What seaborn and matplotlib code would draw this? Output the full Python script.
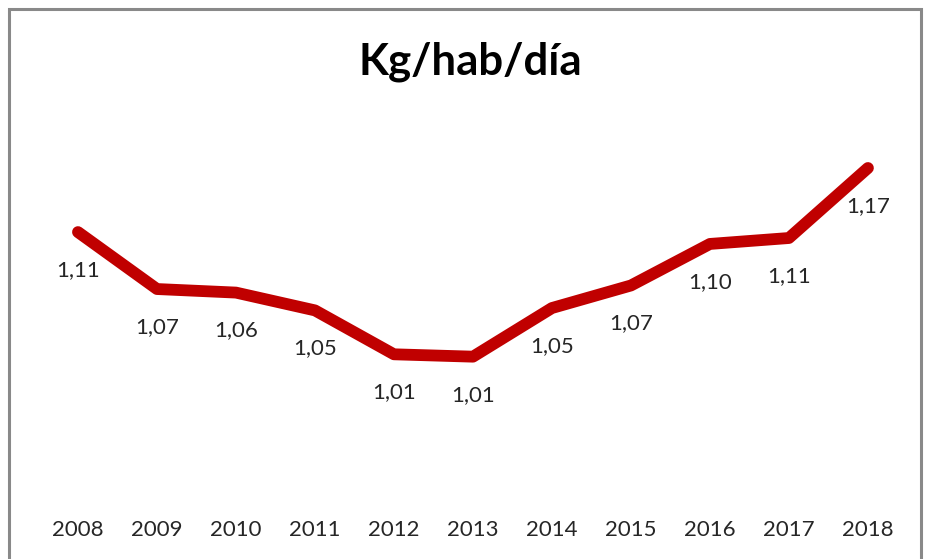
import pandas as pd
import matplotlib
matplotlib.use('Agg')
import matplotlib.pyplot as plt
from matplotlib.patches import Rectangle
import seaborn as sns

# Data (labels shown rounded to 2 decimals)
years = ['2008', '2009', '2010', '2011', '2012', '2013',
         '2014', '2015', '2016', '2017', '2018']
kg_hab_dia = [1.114, 1.066, 1.063, 1.048, 1.011, 1.009,
              1.050, 1.069, 1.104, 1.109, 1.168]

df = pd.DataFrame({'pos': range(len(years)), 'year': years, 'value': kg_hab_dia})

sns.set_style('white')
plt.rcParams['font.family'] = ['Lato', 'DejaVu Sans']

fig = plt.figure(figsize=(9.27, 5.59), dpi=100)
ax = fig.add_axes([0.0415, 0.0966, 0.9374, 0.6708])

sns.lineplot(data=df, x='pos', y='value', ax=ax, color='#C00000',
             linewidth=8.5, solid_capstyle='round')

# data labels under each point
for _, row in df.iterrows():
    ax.annotate(f"{row['value']:.2f}".replace('.', ','),
                (row['pos'], row['value']), xytext=(0, -38),
                textcoords='offset pixels', ha='center', va='center',
                fontsize=16, color='#262626')

ax.set_xlim(-0.5, len(years) - 0.5)
ax.set_ylim(0.884, 1.200)
ax.set_xticks(df['pos'])
ax.set_xticklabels(years, fontsize=16, color='#262626')
ax.set_yticks([])
ax.tick_params(axis='x', length=0, pad=11)
ax.set_xlabel('')
ax.set_ylabel('')
sns.despine(ax=ax, left=True, bottom=True)

fig.text(0.507, 0.889, 'Kg/hab/día', ha='center', va='center',
         fontsize=31.5, fontweight='bold', color='#000000')

# chart border
fig.patches.append(Rectangle((9 / 927, -0.05), 912 / 927, 1.034,
                             transform=fig.transFigure, fill=False,
                             edgecolor='#898989', linewidth=2.2))

fig.savefig('out.png', dpi=100)
